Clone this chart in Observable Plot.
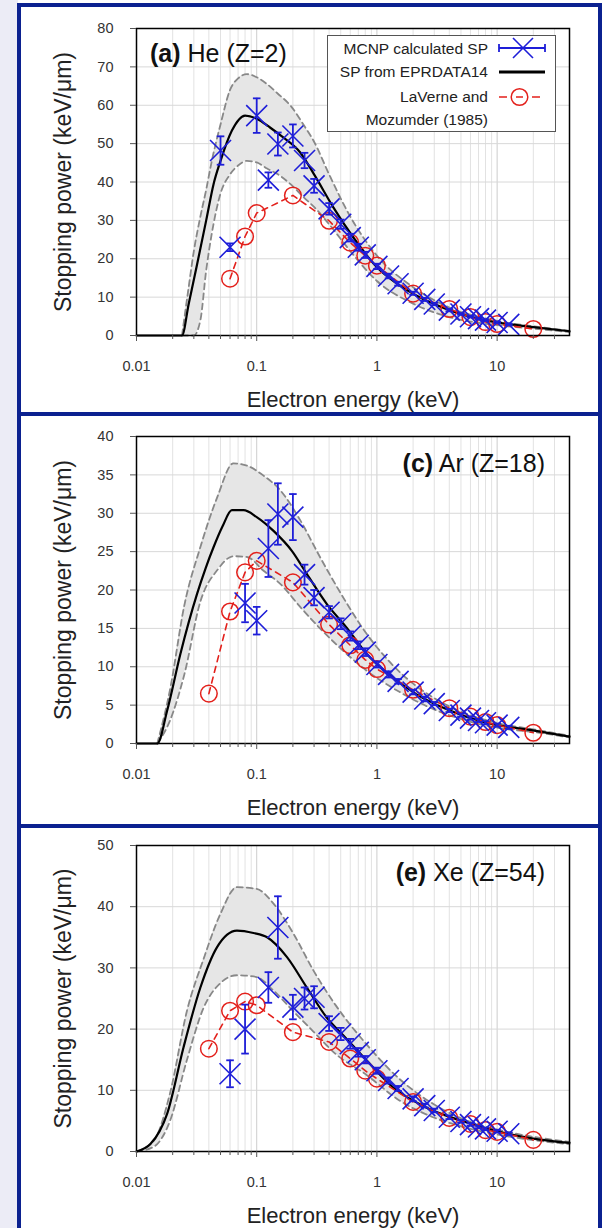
<!DOCTYPE html>
<html><head><meta charset="utf-8">
<script src="https://cdn.jsdelivr.net/npm/d3@7"></script>
<script src="https://cdn.jsdelivr.net/npm/@observablehq/plot@0.6"></script>
<style>
html,body{margin:0;padding:0;background:#fff;}
body{width:602px;height:1228px;position:relative;overflow:hidden;font-family:"Liberation Sans",Arial,sans-serif;}
#bgl{position:absolute;left:0;top:0;width:18px;height:1228px;background:#ececf6;}
.box{position:absolute;left:17px;width:585px;border:4px solid #0b2190;box-sizing:border-box;}
.panel{position:absolute;left:21px;}
.title{position:absolute;font-size:25px;line-height:25px;color:#111;white-space:nowrap;}
#legend{position:absolute;left:327px;top:35px;}
</style></head>
<body>
<div id="bgl"></div>
<div class="box" style="top:3px;height:413px"></div>
<div class="box" style="top:412px;height:416px"></div>
<div class="box" style="top:824px;height:420px"></div>
<div class="panel" id="p1" style="top:7px"></div>
<div class="panel" id="p2" style="top:416px"></div>
<div class="panel" id="p3" style="top:828px"></div>
<div class="title" style="left:150px;top:41px"><b>(a)</b> He (Z=2)</div>
<div class="title" style="right:57px;top:451px"><b>(c)</b> Ar (Z=18)</div>
<div class="title" style="right:57px;top:860px"><b>(e)</b> Xe (Z=54)</div>
<svg id="legend" width="230" height="98"></svg>
<script>
// ---------- axes ----------
const xMajor = [0.01, 0.1, 1, 10];
const xMajorLabels = ["0.01", "0.1", "1", "10"];
const xMinor = [0.02,0.03,0.04,0.05,0.06,0.07,0.08,0.09,0.2,0.3,0.4,0.5,0.6,0.7,0.8,0.9,2,3,4,5,6,7,8,9,20,30];
const xTitle = "Electron energy (keV)";
const yTitle = "Stopping power (keV/\u03bcm)";
const heYTicks = [0,10,20,30,40,50,60,70,80];
const arYTicks = [0,5,10,15,20,25,30,35,40];
const xeYTicks = [0,10,20,30,40,50];
const legendLabels = ["MCNP calculated SP", "SP from EPRDATA14", "LaVerne and", "Mozumder (1985)"];

// ---------- He (Z=2) ----------
const heCurveE = [0.01, 0.0239, 0.0272, 0.0319, 0.038, 0.0438, 0.05, 0.0622, 0.08, 0.1, 0.129, 0.16, 0.23, 0.3, 0.434, 0.635, 1, 1.4, 2, 3, 4, 6, 10, 20, 40];
const heCurveV = [0, 0, 8.3, 18.5, 30, 39.5, 45.5, 53.4, 57.3, 56.5, 54.2, 52, 47.7, 42, 33.4, 25.6, 17.8, 14, 10.9, 8.2, 6.6, 4.9, 3.4, 2.2, 1.1];
const heBandE = [0.0239, 0.027, 0.03, 0.034, 0.038, 0.042, 0.05, 0.06, 0.07, 0.083, 0.1, 0.122, 0.15, 0.19, 0.25, 0.3, 0.4, 0.6, 1, 2, 4, 10, 20, 40];
const heBandHi = [0, 12, 22, 31, 38, 45, 55, 64, 67, 68.1, 67.3, 65.5, 63, 60, 54.5, 50.5, 42, 31, 20.8, 12.6, 7.3, 3.8, 2.4, 1.2];
const heBandLo = [0, 0, 0, 4, 17, 26, 37, 42, 44.3, 45.5, 45.1, 43.5, 42, 39.5, 35.8, 33.5, 29, 22, 14.2, 8.3, 4.8, 2.7, 1.8, 0.9];
const heMcnpE = [0.05, 0.06, 0.1, 0.125, 0.15, 0.2, 0.25, 0.3, 0.4, 0.5, 0.6, 0.7, 0.8, 1, 1.25, 1.5, 2, 2.5, 3, 4, 5, 6, 7, 8, 10, 12.5];
const heMcnpV = [48.2, 23, 57.3, 40.5, 49.9, 52, 45.6, 39, 33, 29, 25.5, 23, 21, 18, 15.5, 13.5, 11, 9.4, 8.2, 6.6, 5.6, 4.9, 4.4, 4.0, 3.4, 2.9];
const heMcnpErr = [3.7, 1.0, 4.5, 2.0, 3.0, 3.0, 2.0, 1.8, 1.5, 1.2, 1.0, 0.9, 0.8, 0.7, 0.6, 0.5, 0.4, 0.4, 0.3, 0.3, 0.2, 0.2, 0.2, 0.2, 0.2, 0.2];
const heLavE = [0.06, 0.08, 0.1, 0.2, 0.4, 0.6, 0.8, 1, 2, 4, 6, 8, 10, 20];
const heLavV = [14.8, 25.8, 31.9, 36.5, 29.9, 24.2, 20.8, 18.2, 10.9, 6.9, 4.8, 3.5, 3.0, 1.7];

// ---------- Ar (Z=18) ----------
const arCurveE = [0.01, 0.0149, 0.018, 0.0232, 0.0319, 0.0375, 0.0438, 0.052, 0.0622, 0.0777, 0.1, 0.138, 0.196, 0.261, 0.382, 0.56, 0.82, 1.36, 2.14, 4.03, 8.1, 19.8, 40];
const arCurveV = [0, 0, 4.3, 11.7, 19.5, 22.8, 25.6, 28.3, 30.4, 30.4, 29.5, 27.7, 25.1, 22.1, 18.2, 15.1, 11.7, 8.6, 6.4, 4.3, 2.7, 1.7, 0.9];
const arBandE = [0.0149, 0.019, 0.025, 0.034, 0.047, 0.064, 0.083, 0.114, 0.157, 0.23, 0.336, 0.49, 0.82, 1.55, 2.93, 5.5, 10.5, 20, 40];
const arBandHi = [0, 7, 18, 25.6, 32.1, 36.5, 36.2, 34.9, 33, 29.1, 24.3, 19.8, 14.3, 9.3, 6.0, 3.9, 2.6, 1.85, 1.0];
const arBandLo = [0, 3, 9, 18.5, 22.6, 24.4, 24.3, 22.5, 20.8, 17.8, 15.0, 12.5, 9.5, 6.7, 4.5, 3.0, 2.0, 1.5, 0.8];
const arMcnpE = [0.08, 0.1, 0.125, 0.15, 0.2, 0.25, 0.3, 0.4, 0.5, 0.6, 0.7, 0.8, 1, 1.25, 1.5, 2, 2.5, 3, 4, 5, 6, 7, 8, 10, 12.5];
const arMcnpV = [18.3, 16, 25.4, 29.9, 29.5, 22, 19, 17.1, 15.6, 14, 12.8, 11.9, 10.3, 9.0, 8.1, 6.7, 5.8, 5.2, 4.3, 3.7, 3.3, 3.0, 2.7, 2.4, 2.1];
const arMcnpErr = [2.5, 1.8, 3.7, 4.0, 3.0, 1.3, 1.0, 0.8, 0.7, 0.6, 0.5, 0.5, 0.4, 0.4, 0.3, 0.3, 0.3, 0.2, 0.2, 0.2, 0.2, 0.2, 0.2, 0.2, 0.2];
const arLavE = [0.04, 0.06, 0.08, 0.1, 0.2, 0.4, 0.6, 0.8, 1, 2, 4, 6, 8, 10, 20];
const arLavV = [6.5, 17.2, 22.3, 23.8, 21, 15.5, 12.8, 10.9, 9.7, 7.0, 4.6, 3.5, 2.8, 2.4, 1.4];

// ---------- Xe (Z=54) ----------
const xeCurveE = [0.01, 0.0131, 0.018, 0.0246, 0.034, 0.0468, 0.0685, 0.094, 0.122, 0.178, 0.261, 0.382, 0.56, 0.82, 1.36, 2.57, 4.9, 10.5, 20, 40];
const xeCurveV = [0, 1.25, 6.2, 17, 26.8, 33.4, 36.1, 35.7, 35.0, 31.8, 26.8, 21.9, 18.4, 14.9, 10.5, 7.2, 5.1, 3.2, 2.1, 1.4];
const xeBandE = [0.01, 0.014, 0.019, 0.0263, 0.0362, 0.0498, 0.0685, 0.1, 0.138, 0.202, 0.296, 0.45, 0.82, 1.55, 2.93, 5.5, 10.5, 20, 40];
const xeBandHi = [0, 1.8, 9.5, 23, 31.5, 38.8, 43.2, 42.9, 40.5, 35.6, 29.6, 24.0, 17.5, 11.8, 7.8, 5.1, 3.5, 2.4, 1.55];
const xeBandLo = [0, 0.8, 5, 15, 23.5, 27.5, 28.8, 28.5, 26.3, 22.9, 19.6, 16.0, 12.5, 8.3, 5.6, 3.9, 2.7, 1.85, 1.2];
const xeMcnpE = [0.06, 0.08, 0.125, 0.15, 0.2, 0.25, 0.3, 0.4, 0.5, 0.6, 0.7, 0.8, 1, 1.25, 1.5, 2, 2.5, 3, 4, 5, 6, 7, 8, 10, 12.5];
const xeMcnpV = [12.7, 20, 26.8, 36.6, 23.6, 25, 25.2, 20.9, 19.2, 17.6, 16.2, 15.0, 13.2, 11.6, 10.3, 8.6, 7.5, 6.7, 5.6, 4.9, 4.4, 4.0, 3.7, 3.3, 2.9];
const xeMcnpErr = [2.2, 4.0, 2.5, 5.1, 2.0, 1.8, 1.8, 1.2, 1.0, 0.8, 0.7, 0.6, 0.5, 0.5, 0.4, 0.4, 0.3, 0.3, 0.3, 0.2, 0.2, 0.2, 0.2, 0.2, 0.2];
const xeLavE = [0.04, 0.06, 0.08, 0.1, 0.2, 0.4, 0.6, 0.8, 1, 2, 4, 6, 8, 10, 20];
const xeLavV = [16.8, 23.0, 24.5, 23.9, 19.5, 17.9, 15.2, 13.2, 11.9, 8.1, 5.5, 4.5, 3.5, 3.2, 1.9];

// ---------- styles ----------
const BLUE = "#1e1ed8", RED = "#e3201b";
const timesSym = {draw(ctx, size) { const r = Math.sqrt(size / Math.PI); ctx.moveTo(-r, -r); ctx.lineTo(r, r); ctx.moveTo(-r, r); ctx.lineTo(r, -r); }};
const capSym = {draw(ctx, size) { const r = Math.sqrt(size / Math.PI); ctx.moveTo(-r, 0); ctx.lineTo(r, 0); }};
const FONT = "'Liberation Sans', Arial, sans-serif";

function panel(c) {
  const curve = c.curveE.map((E, i) => ({E, v: c.curveV[i]}));
  const band = c.bandE.map((E, i) => ({E, lo: c.bandLo[i], hi: c.bandHi[i]}));
  const mcnp = c.mcnpE.map((E, i) => ({E, v: c.mcnpV[i], e: c.mcnpErr[i]}));
  const lav = c.lavE.map((E, i) => ({E, v: c.lavV[i]}));
  return Plot.plot({
    width: 577, height: c.height,
    marginLeft: 115, marginRight: 29, marginTop: c.marginTop, marginBottom: c.marginBottom,
    style: {fontFamily: FONT, fontSize: "14.5px", color: "#333", background: "transparent", overflow: "visible"},
    x: {type: "log", domain: [0.01, 40]},
    y: {domain: [0, c.yTicks[c.yTicks.length - 1]]},
    marks: [
      Plot.gridX(xMinor, {stroke: "#e2e2e2", strokeOpacity: 1}),
      Plot.gridX(xMajor, {stroke: "#cdcdcd", strokeOpacity: 1}),
      Plot.gridY(c.yTicks, {stroke: "#d8d8d8", strokeOpacity: 1}),
      Plot.areaY(band, {x: "E", y1: "lo", y2: "hi", fill: "#e6e6e6", curve: "monotone-x"}),
      Plot.line(band, {x: "E", y: "hi", stroke: "#888", strokeWidth: 1.8, strokeDasharray: "6,4", curve: "monotone-x"}),
      Plot.line(band, {x: "E", y: "lo", stroke: "#888", strokeWidth: 1.8, strokeDasharray: "6,4", curve: "monotone-x"}),
      Plot.line(curve, {x: "E", y: "v", stroke: "#000", strokeWidth: 2.2, curve: "monotone-x"}),
      Plot.line(lav, {x: "E", y: "v", stroke: RED, strokeWidth: 1.6, strokeDasharray: "6,5"}),
      Plot.dot(lav, {x: "E", y: "v", r: 8.3, stroke: RED, strokeWidth: 1.5, fill: "none"}),
      Plot.ruleX(mcnp, {x: "E", y1: d => d.v - d.e, y2: d => d.v + d.e, stroke: BLUE, strokeWidth: 1.8}),
      Plot.dot(mcnp, {x: "E", y: d => d.v - d.e, symbol: capSym, r: 3.8, stroke: BLUE, strokeWidth: 1.8, fill: "none"}),
      Plot.dot(mcnp, {x: "E", y: d => d.v + d.e, symbol: capSym, r: 3.8, stroke: BLUE, strokeWidth: 1.8, fill: "none"}),
      Plot.dot(mcnp, {x: "E", y: "v", symbol: timesSym, r: 10.5, stroke: BLUE, strokeWidth: 1.6, fill: "none"}),
      Plot.frame({stroke: "#000", strokeWidth: 1.5}),
      Plot.axisX(xMinor, {tickSize: 4, tickFormat: () => "", label: null, stroke: "#555"}),
      Plot.axisX(xMajor, {tickSize: 6, tickPadding: 19, tickFormat: d => xMajorLabels[xMajor.indexOf(d)], label: null, stroke: "#555", fill: "#333"}),
      Plot.axisY(c.yTicks, {tickSize: 6, tickPadding: 17, label: null, stroke: "#555", fill: "#333"}),
      Plot.text([xTitle], {text: d => d, frameAnchor: "bottom", dy: 71, fontSize: 22, fill: "#222", textAnchor: "middle"}),
      Plot.text([yTitle], {text: d => d, frameAnchor: "left", dx: -73, rotate: -90, fontSize: 23, fill: "#222", textAnchor: "middle"})
    ]
  });
}

document.getElementById("p1").append(panel({curveE: heCurveE, curveV: heCurveV, bandE: heBandE, bandLo: heBandLo, bandHi: heBandHi,
  mcnpE: heMcnpE, mcnpV: heMcnpV, mcnpErr: heMcnpErr, lavE: heLavE, lavV: heLavV, yTicks: heYTicks,
  height: 405, marginTop: 21, marginBottom: 77}));
document.getElementById("p2").append(panel({curveE: arCurveE, curveV: arCurveV, bandE: arBandE, bandLo: arBandLo, bandHi: arBandHi,
  mcnpE: arMcnpE, mcnpV: arMcnpV, mcnpErr: arMcnpErr, lavE: arLavE, lavV: arLavV, yTicks: arYTicks,
  height: 408, marginTop: 20, marginBottom: 81}));
document.getElementById("p3").append(panel({curveE: xeCurveE, curveV: xeCurveV, bandE: xeBandE, bandLo: xeBandLo, bandHi: xeBandHi,
  mcnpE: xeMcnpE, mcnpV: xeMcnpV, mcnpErr: xeMcnpErr, lavE: xeLavE, lavV: xeLavV, yTicks: xeYTicks,
  height: 400, marginTop: 17, marginBottom: 77}));

// ---------- legend (panel a) ----------
const lg = d3.select("#legend");
lg.append("rect").attr("x", 0.5).attr("y", 0.5).attr("width", 228).attr("height", 96).attr("fill", "#fff").attr("stroke", "#555").attr("stroke-width", 1);
const baselines = [19, 42, 67, 90];
legendLabels.forEach((t, i) => lg.append("text").attr("x", 161).attr("y", baselines[i]).attr("text-anchor", "end")
  .attr("font-family", FONT).attr("font-size", 15.5).attr("fill", "#222").text(t));
// MCNP symbol
lg.append("line").attr("x1", 172).attr("x2", 218).attr("y1", 13).attr("y2", 13).attr("stroke", BLUE).attr("stroke-width", 1.8);
lg.append("line").attr("x1", 172).attr("x2", 172).attr("y1", 9).attr("y2", 17).attr("stroke", BLUE).attr("stroke-width", 1.8);
lg.append("line").attr("x1", 218).attr("x2", 218).attr("y1", 9).attr("y2", 17).attr("stroke", BLUE).attr("stroke-width", 1.8);
lg.append("path").attr("d", "M186,3L206,23M186,23L206,3").attr("stroke", BLUE).attr("stroke-width", 1.6).attr("fill", "none");
// EPRDATA line
lg.append("line").attr("x1", 172).attr("x2", 218).attr("y1", 37).attr("y2", 37).attr("stroke", "#000").attr("stroke-width", 3);
// LaVerne symbol
lg.append("path").attr("d", "M172,62H180M189,62H196M205,62H213").attr("stroke", RED).attr("stroke-width", 1.6);
lg.append("circle").attr("cx", 192.5).attr("cy", 62).attr("r", 8.3).attr("fill", "none").attr("stroke", RED).attr("stroke-width", 1.5);
</script>
</body></html>
